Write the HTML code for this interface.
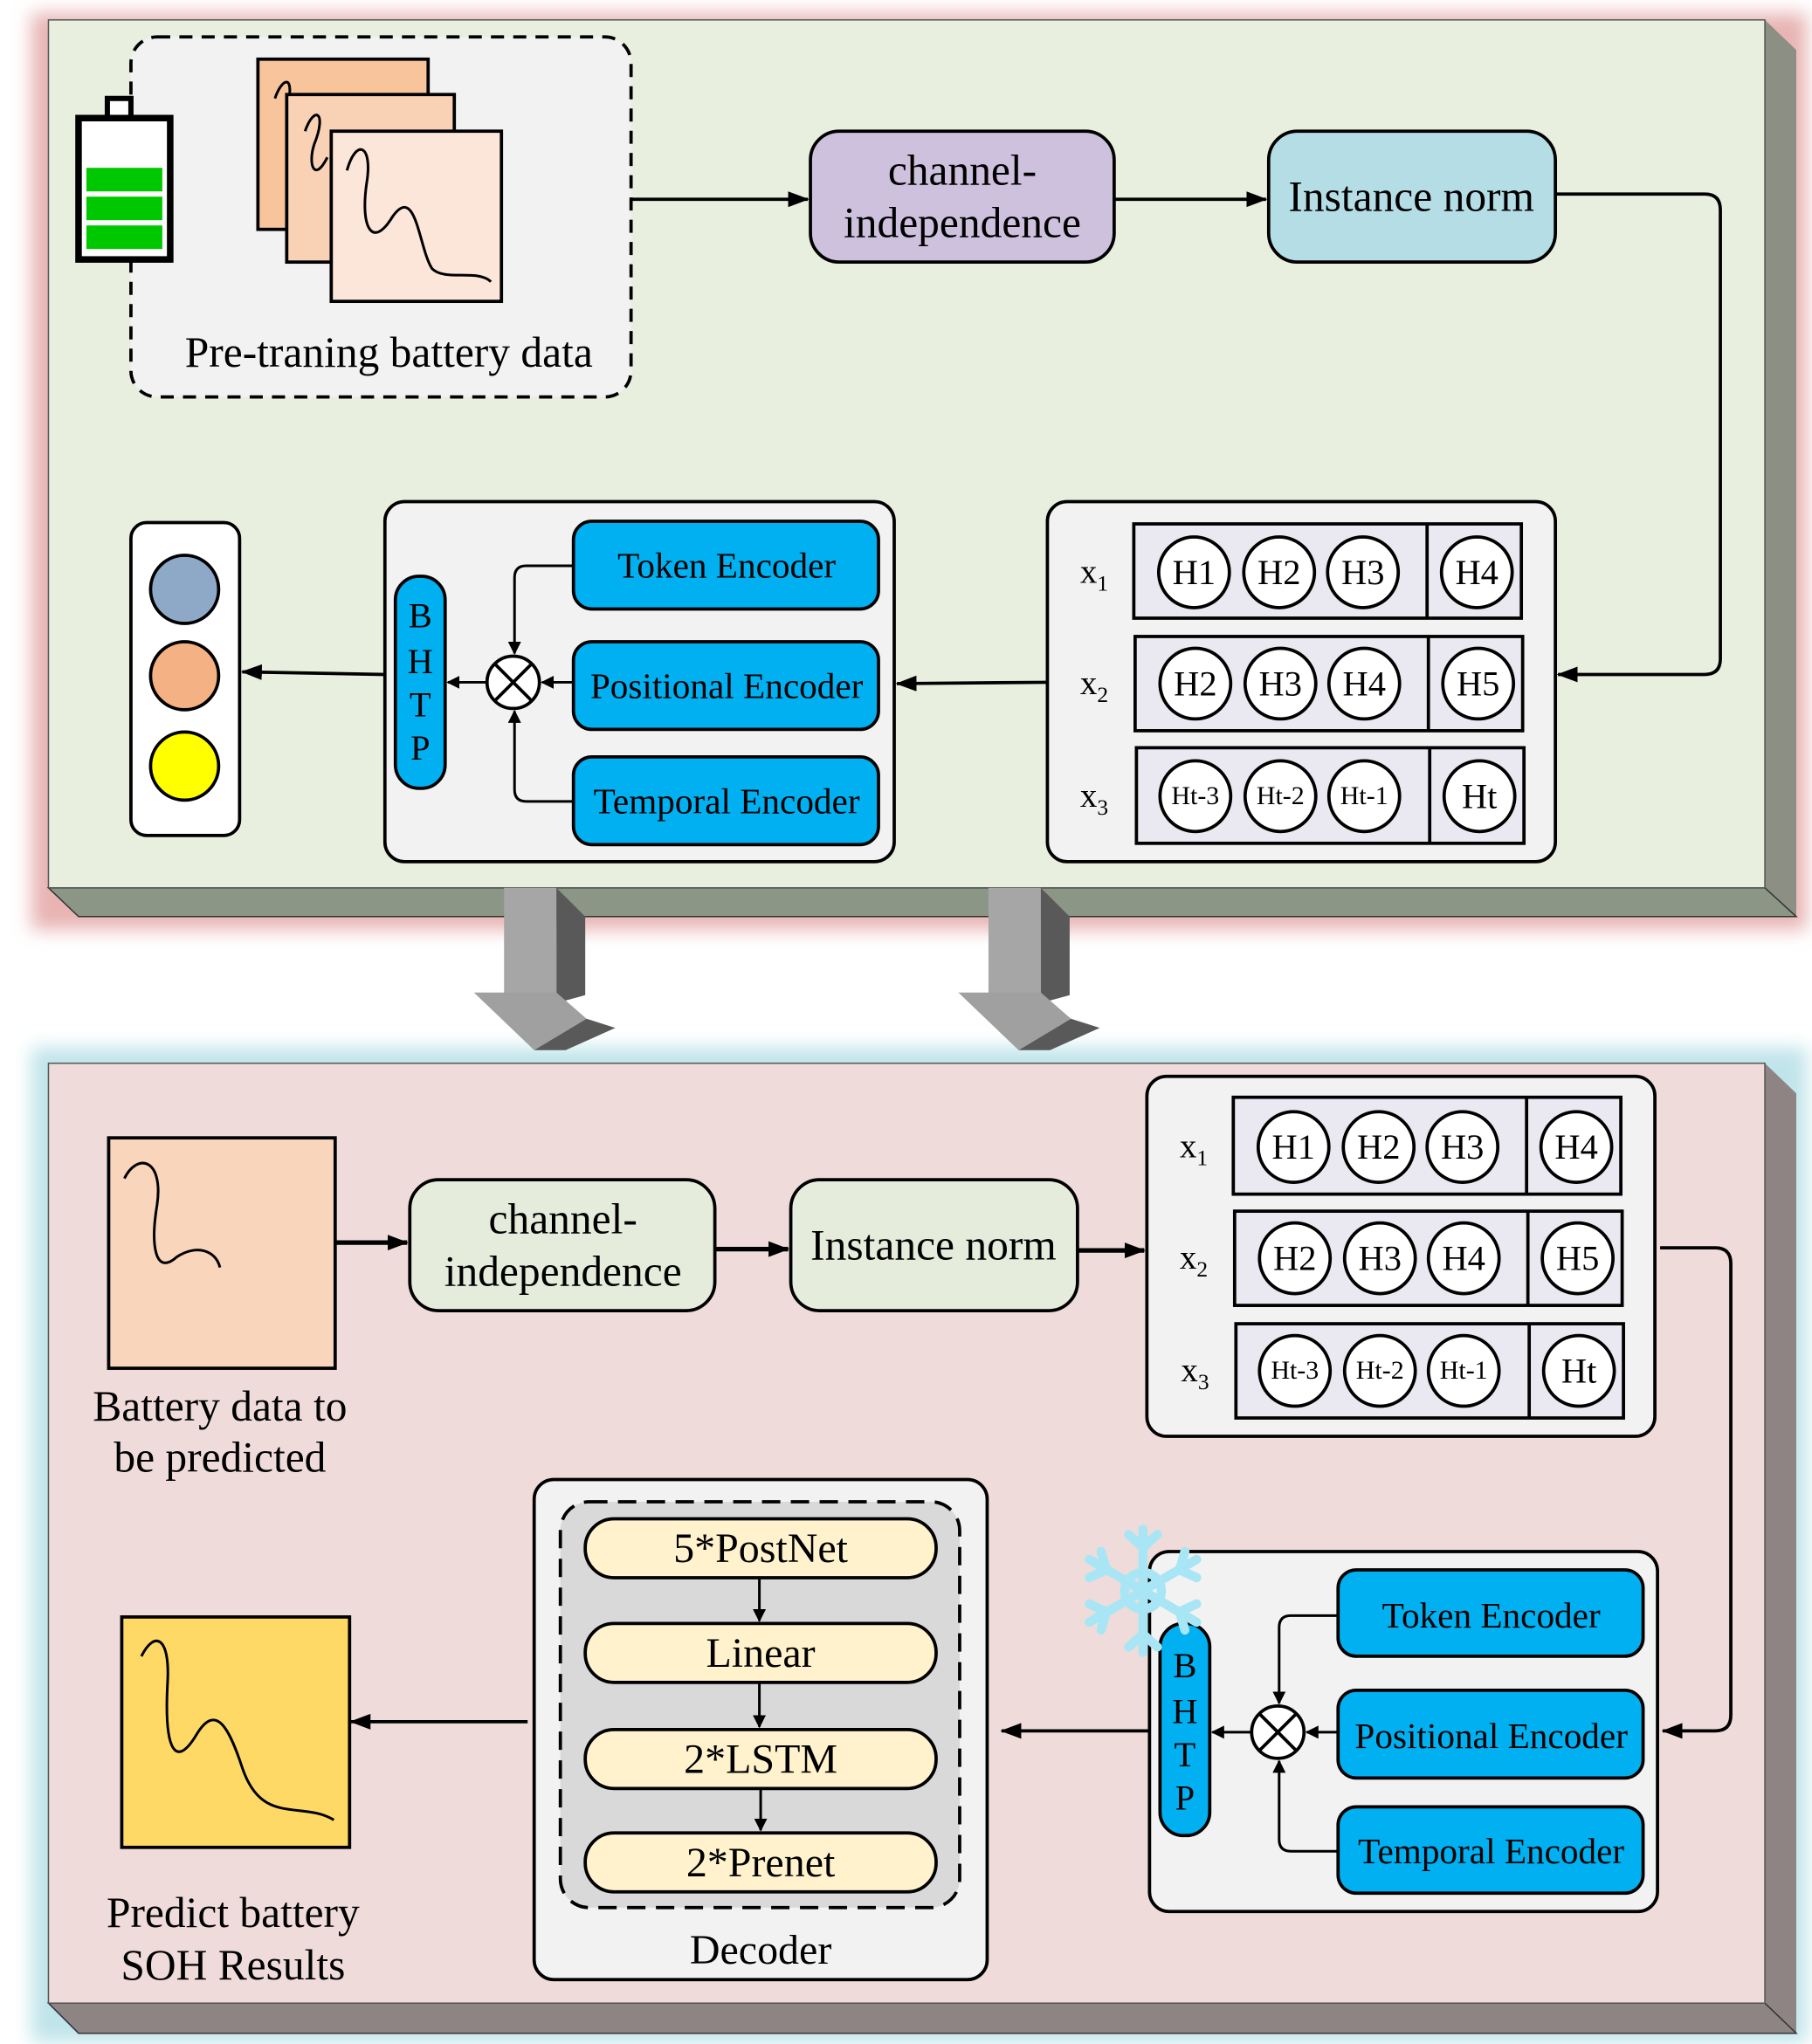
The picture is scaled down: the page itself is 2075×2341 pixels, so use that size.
<!DOCTYPE html>
<html><head><meta charset="utf-8"><style>html,body{margin:0;padding:0;background:#fff}svg{display:block}text{font-family:"Liberation Serif",serif;fill:#000}</style></head><body>
<svg width="2075" height="2341" viewBox="0 0 1384 1561" xmlns="http://www.w3.org/2000/svg">
<defs>
<filter id="bl" x="-10%" y="-10%" width="120%" height="120%"><feGaussianBlur stdDeviation="7"/></filter>
<marker id="ar" markerWidth="10" markerHeight="10" refX="9" refY="5" orient="auto" markerUnits="userSpaceOnUse"><path d="M0,0 L10,5 L0,10 Z" fill="#000"/></marker>
<marker id="as" markerWidth="16" markerHeight="12" refX="15" refY="6" orient="auto" markerUnits="userSpaceOnUse"><path d="M0,0 L16,6 L0,12 Z" fill="#000"/></marker>
</defs>
<rect x="24" y="10" width="1356" height="700" fill="#e8b3b3" filter="url(#bl)"/>
<polygon points="1348,15 1372,38 1372,700 1348,678" fill="#8c8f84"/>
<polygon points="37,678 1348,678 1372,700 60,700" fill="#8c9687" stroke="#333" stroke-width="1"/>
<rect x="37" y="15" width="1311" height="663" fill="#e9efde" stroke="#555" stroke-width="1"/>
<rect x="24" y="800" width="1356" height="760" fill="#bfe4ea" filter="url(#bl)"/>
<polygon points="1348,812 1372,835 1372,1553 1348,1530" fill="#8e8483"/>
<polygon points="37,1530 1348,1530 1372,1553 60,1553" fill="#8e8483" stroke="#333" stroke-width="1"/>
<rect x="37" y="812" width="1311" height="718" fill="#efdcda" stroke="#555" stroke-width="1"/>

<rect x="100" y="28" width="382" height="275" rx="20" fill="#f2f2f2" stroke="#000" stroke-width="2.5" stroke-dasharray="10,7"/>
<rect x="82" y="75" width="18" height="15" fill="#fff" stroke="#000" stroke-width="4"/>
<rect x="60" y="90" width="70" height="108" fill="#fff" stroke="#000" stroke-width="5"/>
<rect x="66" y="128" width="58" height="18" fill="#00c800"/>
<rect x="66" y="150" width="58" height="18" fill="#00c800"/>
<rect x="66" y="172" width="58" height="18" fill="#00c800"/>
<rect x="197" y="45" width="130" height="130" fill="#f8c49c" stroke="#000" stroke-width="2.5"/>
<path d="M210,75 C215,60 225,55 220,80" stroke="#000" stroke-width="2" fill="none"/>
<rect x="219" y="72" width="128" height="128" fill="#f9d2b5" stroke="#000" stroke-width="2.5"/>
<path d="M233,100 C240,80 250,85 240,110 C235,125 240,140 250,120" stroke="#000" stroke-width="2" fill="none"/>
<rect x="253" y="100" width="130" height="130" fill="#fbe6d9" stroke="#000" stroke-width="2.5"/>
<path d="M265,130 C272,105 285,110 280,140 C275,175 285,190 300,165 C318,140 320,190 330,205 C340,215 365,205 375,215" stroke="#000" stroke-width="2" fill="none"/>
<text x="297" y="280" font-size="33" text-anchor="middle">Pre-traning battery data</text>

<g stroke="#000" stroke-width="2.5">
<rect x="619" y="100" width="232" height="100" rx="22" fill="#cdc1dd"/>
<rect x="969" y="100" width="219" height="100" rx="22" fill="#b5dde6"/>
</g>
<text x="735" y="141" font-size="33" text-anchor="middle">channel-</text>
<text x="735" y="181" font-size="33" text-anchor="middle">independence</text>
<text x="1078" y="161" font-size="33" text-anchor="middle">Instance norm</text>

<g stroke="#000" stroke-width="2.5" fill="none">
<line x1="482" y1="152" x2="617" y2="152" marker-end="url(#as)"/>
<line x1="851" y1="152" x2="967" y2="152" marker-end="url(#as)"/>
<path d="M1188,148 H1302 Q1314,148 1314,160 V503 Q1314,515 1302,515 H1190" marker-end="url(#as)"/>
</g>

<g stroke="#000" stroke-width="2.5">
<rect x="800" y="383" width="388" height="275" rx="15" fill="#f2f2f2"/>
<rect x="866" y="400" width="296" height="72" fill="#eae8f0"/>
<rect x="867" y="486" width="296" height="72" fill="#eae8f0"/>
<rect x="868" y="571" width="296" height="73" fill="#eae8f0"/>
<line x1="1090" y1="400" x2="1090" y2="472"/>
<line x1="1091" y1="486" x2="1091" y2="558"/>
<line x1="1092" y1="571" x2="1092" y2="644"/>
</g>
<g stroke="#000" stroke-width="2.5" fill="#fff">
<circle cx="912" cy="437" r="27"/><circle cx="977" cy="437" r="27"/><circle cx="1041" cy="437" r="27"/><circle cx="1128" cy="437" r="27"/>
<circle cx="913" cy="522" r="27"/><circle cx="978" cy="522" r="27"/><circle cx="1042" cy="522" r="27"/><circle cx="1129" cy="522" r="27"/>
<circle cx="913" cy="608" r="27"/><circle cx="978" cy="608" r="27"/><circle cx="1042" cy="608" r="27"/><circle cx="1130" cy="608" r="27"/>
</g>
<g font-size="27" text-anchor="middle">
<text x="912" y="446">H1</text><text x="977" y="446">H2</text><text x="1041" y="446">H3</text><text x="1128" y="446">H4</text>
<text x="913" y="531">H2</text><text x="978" y="531">H3</text><text x="1042" y="531">H4</text><text x="1129" y="531">H5</text>
<text x="913" y="614" font-size="20">Ht-3</text><text x="978" y="614" font-size="20">Ht-2</text><text x="1042" y="614" font-size="20">Ht-1</text><text x="1130" y="617">Ht</text>
</g>
<g font-size="26"><text x="825" y="445">x<tspan font-size="17" dy="6">1</tspan></text><text x="825" y="530">x<tspan font-size="17" dy="6">2</tspan></text><text x="825" y="616">x<tspan font-size="17" dy="6">3</tspan></text></g>
<line x1="800" y1="521" x2="685" y2="522" stroke="#000" stroke-width="2.5" marker-end="url(#as)"/>

<g stroke="#000" stroke-width="2.5">
<rect x="294" y="383" width="389" height="275" rx="15" fill="#f2f2f2"/>
<rect x="438" y="398" width="233" height="67" rx="14" fill="#00b0f0"/>
<rect x="438" y="490" width="233" height="67" rx="14" fill="#00b0f0"/>
<rect x="438" y="578" width="233" height="67" rx="14" fill="#00b0f0"/>
<rect x="302" y="440" width="38" height="162" rx="18" fill="#00b0f0"/>
<circle cx="392" cy="521" r="20" fill="#fff"/>
<line x1="378" y1="507" x2="406" y2="535"/><line x1="406" y1="507" x2="378" y2="535"/>
</g>
<g font-size="27.5" text-anchor="middle"><text x="555" y="441">Token Encoder</text><text x="555" y="533">Positional Encoder</text><text x="555" y="621">Temporal Encoder</text></g>
<g font-size="27" text-anchor="middle"><text x="321" y="479">B</text><text x="321" y="514">H</text><text x="321" y="547">T</text><text x="321" y="580">P</text></g>
<g stroke="#000" stroke-width="2" fill="none">
<path d="M438,432 H402 Q393,432 393,441 V499" marker-end="url(#ar)"/>
<path d="M438,612 H402 Q393,612 393,603 V543" marker-end="url(#ar)"/>
<line x1="438" y1="521" x2="414" y2="521" marker-end="url(#ar)"/>
<line x1="372" y1="521" x2="342" y2="521" marker-end="url(#ar)"/>
<line x1="294" y1="515" x2="185" y2="513" stroke-width="2.5" marker-end="url(#as)"/>
</g>
<rect x="100" y="399" width="83" height="239" rx="12" fill="#fff" stroke="#000" stroke-width="2.5"/>
<circle cx="141" cy="450" r="26" fill="#8ea9c8" stroke="#000" stroke-width="2.5"/>
<circle cx="141" cy="516" r="26" fill="#f4b183" stroke="#000" stroke-width="2.5"/>
<circle cx="141" cy="585" r="26" fill="#ffff00" stroke="#000" stroke-width="2.5"/>

<g>
<rect x="385" y="678" width="40" height="88" fill="#a6a6a6"/>
<polygon points="425,678 447,700 447,760 425,766" fill="#595959"/>
<polygon points="362,758 425,758 448,778 408,802" fill="#a0a0a0"/>
<polygon points="408,802 448,778 470,785 432,802" fill="#595959"/>
<rect x="755" y="678" width="40" height="88" fill="#a6a6a6"/>
<polygon points="795,678 817,700 817,760 795,766" fill="#595959"/>
<polygon points="732,758 795,758 818,778 778,802" fill="#a0a0a0"/>
<polygon points="778,802 818,778 840,785 802,802" fill="#595959"/>
</g>

<rect x="83" y="869" width="173" height="176" fill="#f8d5bb" stroke="#000" stroke-width="2.5"/>
<path d="M95,900 C105,880 125,885 120,920 C115,950 118,975 135,960 C150,950 165,955 168,968" stroke="#000" stroke-width="2" fill="none"/>
<text x="168" y="1085" font-size="33" text-anchor="middle">Battery data to</text>
<text x="168" y="1124" font-size="33" text-anchor="middle">be predicted</text>
<g stroke="#000" stroke-width="2.5">
<rect x="313" y="901" width="233" height="100" rx="22" fill="#e6ecdc"/>
<rect x="604" y="901" width="219" height="100" rx="22" fill="#e6ecdc"/>
</g>
<text x="430" y="942" font-size="33" text-anchor="middle">channel-</text>
<text x="430" y="982" font-size="33" text-anchor="middle">independence</text>
<text x="713" y="962" font-size="33" text-anchor="middle">Instance norm</text>
<g stroke="#000" stroke-width="3.5" fill="none">
<line x1="256" y1="949" x2="311" y2="949" marker-end="url(#as)"/>
<line x1="546" y1="954" x2="602" y2="954" marker-end="url(#as)"/>
<line x1="823" y1="955" x2="874" y2="955" marker-end="url(#as)"/>
<path d="M1268,953 H1310 Q1322,953 1322,965 V1310 Q1322,1322 1310,1322 H1270" stroke-width="2.5" marker-end="url(#as)"/>
</g>

<g stroke="#000" stroke-width="2.5">
<rect x="876" y="822" width="388" height="275" rx="15" fill="#f2f2f2"/>
<rect x="942" y="838" width="296" height="74" fill="#eae8f0"/>
<rect x="943" y="925" width="296" height="72" fill="#eae8f0"/>
<rect x="944" y="1011" width="296" height="72" fill="#eae8f0"/>
<line x1="1166" y1="838" x2="1166" y2="912"/>
<line x1="1167" y1="925" x2="1167" y2="997"/>
<line x1="1168" y1="1011" x2="1168" y2="1083"/>
</g>
<g stroke="#000" stroke-width="2.5" fill="#fff">
<circle cx="988" cy="876" r="27"/><circle cx="1053" cy="876" r="27"/><circle cx="1117" cy="876" r="27"/><circle cx="1204" cy="876" r="27"/>
<circle cx="989" cy="961" r="27"/><circle cx="1054" cy="961" r="27"/><circle cx="1118" cy="961" r="27"/><circle cx="1205" cy="961" r="27"/>
<circle cx="989" cy="1047" r="27"/><circle cx="1054" cy="1047" r="27"/><circle cx="1118" cy="1047" r="27"/><circle cx="1206" cy="1047" r="27"/>
</g>
<g font-size="27" text-anchor="middle">
<text x="988" y="885">H1</text><text x="1053" y="885">H2</text><text x="1117" y="885">H3</text><text x="1204" y="885">H4</text>
<text x="989" y="970">H2</text><text x="1054" y="970">H3</text><text x="1118" y="970">H4</text><text x="1205" y="970">H5</text>
<text x="989" y="1053" font-size="20">Ht-3</text><text x="1054" y="1053" font-size="20">Ht-2</text><text x="1118" y="1053" font-size="20">Ht-1</text><text x="1206" y="1056">Ht</text>
</g>
<g font-size="26"><text x="901" y="884">x<tspan font-size="17" dy="6">1</tspan></text><text x="901" y="969">x<tspan font-size="17" dy="6">2</tspan></text><text x="902" y="1055">x<tspan font-size="17" dy="6">3</tspan></text></g>

<g stroke="#000" stroke-width="2.5">
<rect x="878" y="1185" width="388" height="275" rx="15" fill="#f2f2f2"/>
<rect x="1022" y="1199" width="233" height="66" rx="14" fill="#00b0f0"/>
<rect x="1022" y="1291" width="233" height="67" rx="14" fill="#00b0f0"/>
<rect x="1022" y="1380" width="233" height="66" rx="14" fill="#00b0f0"/>
<rect x="886" y="1240" width="38" height="162" rx="18" fill="#00b0f0"/>
<circle cx="976" cy="1323" r="20" fill="#fff"/>
<line x1="962" y1="1309" x2="990" y2="1337"/><line x1="990" y1="1309" x2="962" y2="1337"/>
</g>
<g font-size="27.5" text-anchor="middle"><text x="1139" y="1243">Token Encoder</text><text x="1139" y="1335">Positional Encoder</text><text x="1139" y="1423">Temporal Encoder</text></g>
<g font-size="27" text-anchor="middle"><text x="905" y="1281">B</text><text x="905" y="1316">H</text><text x="905" y="1349">T</text><text x="905" y="1382">P</text></g>
<g stroke="#000" stroke-width="2" fill="none">
<path d="M1022,1234 H986 Q977,1234 977,1243 V1301" marker-end="url(#ar)"/>
<path d="M1022,1414 H986 Q977,1414 977,1405 V1345" marker-end="url(#ar)"/>
<line x1="1022" y1="1323" x2="998" y2="1323" marker-end="url(#ar)"/>
<line x1="956" y1="1323" x2="926" y2="1323" marker-end="url(#ar)"/>
<line x1="878" y1="1322" x2="765" y2="1322" stroke-width="2.5" marker-end="url(#as)"/>
<line x1="403" y1="1315" x2="268" y2="1315" stroke-width="2.5" marker-end="url(#as)"/>
</g>
<g stroke="#a8e6f5" stroke-width="7" stroke-linecap="round" fill="none">
<circle cx="873" cy="1215" r="14"/>
<line x1="873" y1="1168" x2="873" y2="1262"/>
<line x1="832" y1="1191" x2="914" y2="1239"/>
<line x1="832" y1="1239" x2="914" y2="1191"/>
<path d="M862,1172 L873,1182 L884,1172 M862,1258 L873,1248 L884,1258"/>
<path d="M832,1205 L845,1199 L841,1185 M914,1225 L901,1231 L905,1245"/>
<path d="M832,1225 L845,1231 L841,1245 M914,1205 L901,1199 L905,1185"/>
</g>

<rect x="408" y="1130" width="346" height="382" rx="15" fill="#f2f2f2" stroke="#000" stroke-width="2.5"/>
<rect x="428" y="1147" width="305" height="310" rx="22" fill="#d9d9d9" stroke="#000" stroke-width="2.5" stroke-dasharray="14,8"/>
<g stroke="#000" stroke-width="2.5" fill="#fff2cc">
<rect x="447" y="1160" width="268" height="45" rx="22"/>
<rect x="447" y="1240" width="268" height="45" rx="22"/>
<rect x="447" y="1321" width="268" height="45" rx="22"/>
<rect x="447" y="1400" width="268" height="45" rx="22"/>
</g>
<g font-size="32" text-anchor="middle"><text x="581" y="1193">5*PostNet</text><text x="581" y="1273">Linear</text><text x="581" y="1354">2*LSTM</text><text x="581" y="1433">2*Prenet</text><text x="581" y="1500">Decoder</text></g>
<g stroke="#000" stroke-width="2" fill="none">
<line x1="580" y1="1205" x2="580" y2="1238" marker-end="url(#ar)"/>
<line x1="580" y1="1285" x2="580" y2="1319" marker-end="url(#ar)"/>
<line x1="581" y1="1366" x2="581" y2="1398" marker-end="url(#ar)"/>
</g>
<rect x="93" y="1235" width="174" height="176" fill="#ffd966" stroke="#000" stroke-width="2.5"/>
<path d="M108,1265 C118,1245 130,1250 128,1285 C125,1340 135,1350 150,1325 C165,1300 175,1320 185,1350 C200,1395 230,1375 255,1390" stroke="#000" stroke-width="2" fill="none"/>
<text x="178" y="1472" font-size="33" text-anchor="middle">Predict battery</text>
<text x="178" y="1512" font-size="33" text-anchor="middle">SOH Results</text>
</svg>
</body></html>
